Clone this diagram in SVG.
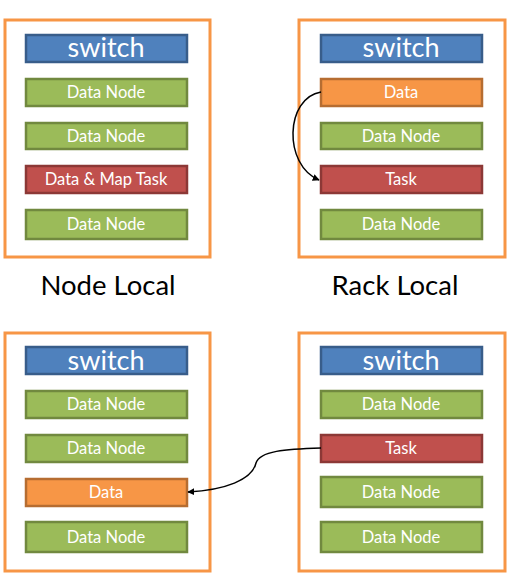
<svg xmlns="http://www.w3.org/2000/svg" width="517" height="584" viewBox="0 0 517 584">
<style>
.rack{fill:#fff;stroke:#F79646;stroke-width:3}
.sw{fill:#4F81BD;stroke:#385D8A;stroke-width:2.5}
.dn{fill:#9BBB59;stroke:#71893F;stroke-width:2.5}
.tk{fill:#C0504D;stroke:#8C3836;stroke-width:2.5}
.da{fill:#F79646;stroke:#B66D31;stroke-width:2.5}
text{font-family:Lato,"Open Sans","Liberation Sans",sans-serif;fill:#fff;text-anchor:middle}
.big{font-size:27px}
.sm{font-size:16.5px}
.cap{font-size:27.5px;fill:#000}
.conn{fill:none;stroke:#000;stroke-width:1.5}
</style>
<defs>
<marker id="ah" viewBox="0 0 10 10" refX="9" refY="5" markerWidth="7" markerHeight="7" orient="auto" markerUnits="userSpaceOnUse">
<path d="M0,0 L10,5 L0,10 z" fill="#000"/>
</marker>
</defs>
<rect x="0" y="0" width="517" height="584" fill="#fff"/>

<g id="rack-node-local">
<rect class="rack" x="5" y="20" width="205" height="237"/>
<g id="nl-switch"><rect class="sw" x="26" y="35" width="161" height="27"/><text class="big" x="106" y="57">switch</text></g>
<g id="nl-dn1"><rect class="dn" x="26" y="79" width="161" height="27"/><text class="sm" x="106" y="98">Data Node</text></g>
<g id="nl-dn2"><rect class="dn" x="26" y="123" width="161" height="26"/><text class="sm" x="106" y="142">Data Node</text></g>
<g id="nl-dmt"><rect class="tk" x="26" y="166" width="161" height="27"/><text class="sm" x="106" y="185">Data &amp; Map Task</text></g>
<g id="nl-dn4"><rect class="dn" x="26" y="210" width="161" height="29"/><text class="sm" x="106" y="230">Data Node</text></g>
</g>
<text class="cap" x="108" y="295">Node Local</text>

<g id="rack-rack-local">
<rect class="rack" x="299" y="20" width="206" height="237"/>
<g id="rl-switch"><rect class="sw" x="321" y="35" width="161" height="27"/><text class="big" x="401" y="57">switch</text></g>
<g id="rl-data"><rect class="da" x="321" y="79" width="161" height="27"/><text class="sm" x="401" y="98">Data</text></g>
<g id="rl-dn2"><rect class="dn" x="321" y="123" width="161" height="26"/><text class="sm" x="401" y="142">Data Node</text></g>
<g id="rl-task"><rect class="tk" x="321" y="166" width="161" height="27"/><text class="sm" x="401" y="185">Task</text></g>
<g id="rl-dn4"><rect class="dn" x="321" y="210" width="161" height="29"/><text class="sm" x="401" y="230">Data Node</text></g>
</g>
<text class="cap" x="395" y="295">Rack Local</text>

<g id="rack-bl">
<rect class="rack" x="5" y="333" width="205" height="238"/>
<g id="bl-switch"><rect class="sw" x="26" y="347" width="161" height="27"/><text class="big" x="106" y="370">switch</text></g>
<g id="bl-dn1"><rect class="dn" x="26" y="391" width="161" height="27"/><text class="sm" x="106" y="410">Data Node</text></g>
<g id="bl-dn2"><rect class="dn" x="26" y="435" width="161" height="27"/><text class="sm" x="106" y="454">Data Node</text></g>
<g id="bl-data"><rect class="da" x="26" y="479" width="161" height="27"/><text class="sm" x="106" y="498">Data</text></g>
<g id="bl-dn4"><rect class="dn" x="26" y="522" width="161" height="30"/><text class="sm" x="106" y="543">Data Node</text></g>
</g>

<g id="rack-br">
<rect class="rack" x="299" y="333" width="206" height="238"/>
<g id="br-switch"><rect class="sw" x="321" y="347" width="161" height="27"/><text class="big" x="401" y="370">switch</text></g>
<g id="br-dn1"><rect class="dn" x="321" y="391" width="161" height="27"/><text class="sm" x="401" y="410">Data Node</text></g>
<g id="br-task"><rect class="tk" x="321" y="435" width="161" height="27"/><text class="sm" x="401" y="454">Task</text></g>
<g id="br-dn3"><rect class="dn" x="321" y="477" width="161" height="30"/><text class="sm" x="401" y="498">Data Node</text></g>
<g id="br-dn4"><rect class="dn" x="321" y="522" width="161" height="30"/><text class="sm" x="401" y="543">Data Node</text></g>
</g>

<g id="connectors">
<path class="conn" d="M321,92 C285,98 283,165 319,180" marker-end="url(#ah)"/>
<path class="conn" d="M321,448 C285,449 260,451 256,463 C252,480 225,490 188,492" marker-end="url(#ah)"/>
</g>
</svg>
